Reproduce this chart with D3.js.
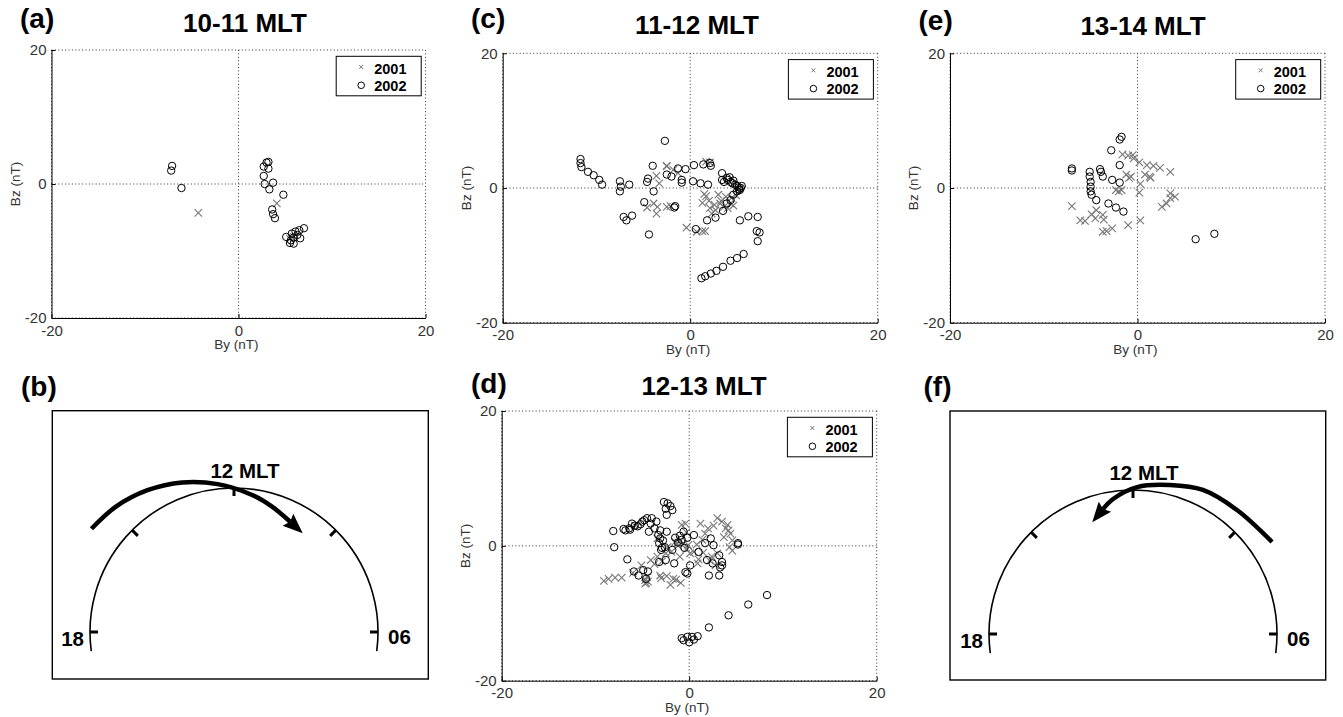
<!DOCTYPE html>
<html>
<head>
<meta charset="utf-8">
<script src="https://cdn.jsdelivr.net/npm/d3@7"></script>
<style>
body{margin:0;background:#fff;}
svg{display:block;font-family:"Liberation Sans",Arial,Helvetica,sans-serif;}
</style>
</head>
<body>
<svg width="1343" height="717"></svg>
<script>
// By, Bz pairs (nT)
const years = ["2001", "2002"];
const axisTicks = [-20, 0, 20];

const a2001 = [[-4.3,-4.3],[4.1,-2.9],[5.9,-7.9],[5.5,-8.2]];
const a2002 = [[-7.1,2.7],[-7.2,2.0],[-6.1,-0.6],[2.7,2.6],[3.0,3.2],[3.2,3.3],[3.2,2.3],[2.7,1.2],[2.8,0.0],
  [3.7,0.2],[3.3,-0.8],[4.8,-1.6],[3.6,-3.8],[3.7,-4.5],[3.9,-5.1],[5.1,-7.9],[5.6,-8.4],[5.7,-7.4],[6.1,-7.1],
  [6.5,-6.9],[7.0,-6.6],[6.6,-8.1],[5.9,-8.9],[5.5,-8.8],[5.9,-8.0],[6.3,-7.6]];

const c2001 = [[-2.5,3.2],[-3.6,1.8],[-3.3,0.7],[-3.9,-2.3],[-4.6,-2.9],[-3.6,-3.8],[-3.5,-2.8],[-2.5,-2.8],
  [-2.1,-2.7],[-0.4,-5.9],[0.7,-6.5],[1.3,-6.4],[1.6,-6.4],[1.7,-1.2],[2.0,-1.9],[2.1,-3.0],[2.6,-2.5],[3.0,-1.0],
  [3.2,-2.3],[3.6,-2.8],[3.8,-1.3],[4.3,-2.3],[1.7,3.9],[2.1,3.8],[-1.8,2.7],[-1.3,2.2],[-2.5,3.3],[1.3,-2.2],
  [2.3,-3.8],[3.3,-1.9],[4.6,-2.6],[1.5,-0.9],[4.4,-1.5],[4.9,-1.1],[2.7,-3.3],[4.0,-3.0]];
const c2002 = [[-2.7,7.0],[-11.7,4.3],[-11.7,3.7],[-11.6,3.1],[-10.9,2.4],[-10.3,1.9],[-9.7,1.2],[-9.4,0.5],
  [-7.5,1.0],[-7.4,0.2],[-6.5,0.5],[-7.5,-0.5],[-7.1,-4.3],[-6.8,-4.8],[-6.2,-4.1],[-4.9,-2.1],[-4.4,-6.9],
  [-4.5,1.4],[-4.6,0.9],[-4.0,3.3],[-3.9,-0.5],[-2.5,2.0],[-2.0,1.7],[-1.3,2.9],[-0.5,2.8],[-0.9,1.2],[-0.9,0.8],
  [-1.6,-2.7],[-1.7,-2.9],[0.4,3.4],[1.4,3.5],[2.1,3.7],[2.2,3.3],[0.3,1.0],[1.1,0.7],[1.9,0.5],[3.4,2.2],
  [3.4,1.2],[3.9,1.5],[4.3,0.9],[4.8,0.5],[5.2,0.1],[5.3,-0.3],[5.0,-0.5],[4.6,-1.0],[4.3,-1.8],[3.9,-2.3],
  [3.5,-3.4],[2.7,-4.4],[1.8,-4.8],[0.6,-6.1],[5.3,-4.8],[6.2,-4.2],[7.2,-4.3],[7.1,-6.4],[7.4,-6.6],[7.2,-7.9],
  [1.2,-13.4],[1.6,-13.1],[2.2,-12.7],[2.8,-12.3],[3.5,-11.7],[4.3,-10.8],[5.0,-10.4],[5.7,-9.8],
  [4.0,1.2],[4.5,0.7],[5.0,0.3],[5.4,0.0],[3.6,0.9],[4.2,1.6],[4.6,1.1],[5.5,0.3],[5.2,-0.2]];

const d2001 = [[-9.1,-5.2],[-8.6,-4.9],[-7.9,-4.7],[-7.2,-4.7],[-4.7,-5.1],[-4.5,-4.6],[-3.1,-4.4],[-2.4,-4.5],
  [-2.0,-5.8],[-1.4,-5.0],[-0.9,-5.5],[-4.1,-2.1],[-3.4,-1.6],[-2.5,-1.1],[-1.3,0.4],[-0.8,3.1],[-0.4,3.3],
  [1.2,3.3],[1.7,1.8],[3.0,4.1],[3.5,3.6],[4.1,3.1],[4.4,1.8],[4.6,0.8],[4.6,-0.7],[3.7,1.3],[3.0,-1.1],
  [0.1,-1.1],[0.5,-0.9],[0.9,-2.6],[2.8,-2.9],[-1.5,0.6],[-0.9,0.8],[-2.3,-0.2],[-3.4,1.1],[-5.1,-2.9],
  [-6.0,-4.0],[-1.0,-1.6],[2.2,-2.2],[-0.1,0.1],[1.5,-1.0],[-4.6,-5.5],[-5.8,3.0],
  [-4.7,-5.6],[-4.4,-5.3],[-1.2,0.0],[-0.6,0.3],[-0.3,-0.5],[-1.9,-0.9],[-2.9,-2.3],[-3.7,-2.7],[-3.0,-4.8],
  [-1.7,-4.9],[0.8,0.2],[1.4,0.9],[2.0,2.6],[2.6,3.0],[3.9,2.6],[4.2,2.3],[4.3,-0.2],[2.4,-1.6],[1.0,-2.0],[-0.3,2.0]];
const d2002 = [[-2.7,6.5],[-2.3,6.3],[-2.0,5.9],[-1.8,5.3],[-2.5,5.5],[-2.4,4.6],[-8.1,2.2],[-8.0,-0.2],
  [-6.6,-2.0],[-5.9,-3.8],[-5.4,-4.4],[-4.9,-3.6],[-6.8,2.3],[-6.3,2.4],[-6.1,3.3],[-5.5,2.9],[-5.0,3.6],
  [-4.5,4.1],[-4.0,4.1],[-4.1,3.3],[-4.3,2.1],[-3.7,2.6],[-3.1,2.3],[-2.4,2.1],[-3.1,1.1],[-3.2,0.4],
  [-3.2,-2.4],[-2.5,-2.1],[-1.6,-2.6],[-0.4,-3.9],[-0.2,-4.1],[-0.6,2.1],[0.5,1.6],[1.0,-0.9],[1.7,0.4],
  [2.3,1.1],[2.6,0.1],[3.2,-1.4],[3.5,-2.4],[3.5,-2.9],[3.2,-4.4],[2.1,-4.4],[5.2,0.4],[5.2,0.2],[8.3,-7.3],
  [6.3,-8.7],[4.2,-10.3],[2.1,-12.1],[-0.6,-14.0],[-0.2,-13.5],[0.3,-13.5],[0.9,-13.4],[0.0,-14.3],[-0.8,-13.7],
  [0.5,-13.9],[-1.2,0.5],[-1.8,-0.6],[-0.8,0.9],[-2.9,-0.3],
  [-5.8,3.0],[-5.2,3.2],[-4.8,3.8],[-3.5,3.6],[-3.3,1.6],[-2.8,0.8],[-2.6,-0.2],[-3.0,-0.6],[-1.5,1.2],
  [-1.0,1.5],[-0.2,1.2],[-0.5,-0.3],[0.1,-2.9],[1.9,-2.1],[2.5,-2.6],[3.3,-3.2],[-6.4,2.6],[-7.0,2.5],
  [-4.6,-4.9],[-4.4,-3.8]];

const e2001 = [[-1.6,5.0],[-1.0,4.8],[-0.4,4.4],[0.2,3.8],[1.0,3.4],[1.7,3.3],[2.4,3.0],[3.5,2.4],[0.8,2.0],
  [1.3,1.7],[-0.7,1.7],[-0.9,1.5],[0.3,0.6],[0.2,-0.7],[-2.0,-0.5],[-2.3,-0.3],[-1.7,-0.3],[-7.0,-2.7],
  [-6.1,-4.8],[-5.6,-4.9],[-4.5,-4.5],[-4.4,-3.3],[-3.7,-4.0],[-3.6,-4.7],[-3.7,-6.5],[-3.3,-6.4],[-2.7,-6.0],
  [-1.0,-5.5],[0.3,-4.8],[2.6,-2.8],[3.1,-2.3],[3.5,-1.5],[4.0,-1.3],[3.5,-0.8],[-4.9,-3.9],[-1.2,2.0],
  [1.4,1.5],[-0.5,4.9]];
const e2002 = [[-1.7,7.6],[-1.9,7.2],[-2.8,5.6],[-1.9,3.4],[-7.0,2.9],[-7.0,2.6],[-5.1,2.4],[-5.1,1.7],
  [-5.0,0.9],[-5.0,0.2],[-5.0,-0.5],[-4.9,-1.0],[-4.4,-1.8],[-4.0,2.8],[-3.9,2.4],[-3.7,1.7],[-2.7,1.2],
  [-1.9,0.8],[-3.1,-2.3],[-2.3,-2.9],[-1.5,-3.5],[6.2,-7.6],[8.2,-6.8]];

// schematic MLT dials: clock ticks and the arrow path as [deg from noon, radius]
const dialTicks = [-90, -45, 0, 45, 90];
const arrowB = [[-54.1,176],[-43.3,172.2],[-31.4,166.1],[-19.1,158.3],[-6.3,148.8],[7.3,138.4],[16.9,131],[27,123.7]];
const arrowF = [[56.5,166.7],[40,161.8],[25.9,160.1],[13.9,153.5],[1.6,147],[-8.4,136.5],[-13.5,128.5]];

const scatterPanels = [
  {tag:"(a)", title:"10-11 MLT", s01:a2001, s02:a2002, left:51.5, right:425.5, top:50, bottom:318, tx:245, ty:32, lx:20, ly:27.5},
  {tag:"(c)", title:"11-12 MLT", s01:c2001, s02:c2002, left:502.7, right:877.7, top:53.3, bottom:322.7, tx:697, ty:33.5, lx:471, ly:27.5},
  {tag:"(e)", title:"13-14 MLT", s01:e2001, s02:e2002, left:950, right:1325, top:53.3, bottom:322.7, tx:1143, ty:35, lx:918.5, ly:29.5},
  {tag:"(d)", title:"12-13 MLT", s01:d2001, s02:d2002, left:501.7, right:876.7, top:411, bottom:680.7, tx:704, ty:395, lx:471, ly:393}
];
const dialPanels = [
  {tag:"(b)", arrow:arrowB, left:52.3, right:428.3, top:410.7, bottom:679, cx:234, cy:632, lx:21, ly:396},
  {tag:"(f)", arrow:arrowF, left:950, right:1325.7, top:411, bottom:680, cx:1133, cy:634, lx:923.5, ly:396}
];

const svg = d3.select("svg");
const rad = d => d * Math.PI / 180;

svg.append("defs").append("marker")
  .attr("id", "head")
  .attr("markerUnits", "userSpaceOnUse")
  .attr("viewBox", "-4 -9 22 18")
  .attr("markerWidth", 22).attr("markerHeight", 18)
  .attr("refX", 0).attr("refY", 0)
  .attr("orient", "auto")
  .append("path").attr("d", "M-3,-8L17,0L-3,8L0,0Z").attr("fill", "#000");

function panelLabel(p){
  svg.append("text").attr("x", p.lx).attr("y", p.ly)
    .attr("font-size", 28).attr("font-weight", "bold").text(p.tag);
}

scatterPanels.forEach(p => {
  const g = svg.append("g");
  const x = d3.scaleLinear().domain([-20, 20]).range([p.left, p.right]);
  const y = d3.scaleLinear().domain([-20, 20]).range([p.bottom, p.top]);

  // dotted grid
  g.selectAll(".gx").data(axisTicks).enter().append("line")
    .attr("x1", d => x(d)).attr("x2", d => x(d)).attr("y1", p.top).attr("y2", p.bottom)
    .attr("stroke", "#333").attr("stroke-width", 1).attr("stroke-dasharray", "1,2.4");
  g.selectAll(".gy").data(axisTicks).enter().append("line")
    .attr("y1", d => y(d)).attr("y2", d => y(d)).attr("x1", p.left).attr("x2", p.right)
    .attr("stroke", "#333").attr("stroke-width", 1).attr("stroke-dasharray", "1,2.4");

  const xAx = g.append("g").attr("transform", `translate(0,${p.bottom})`)
    .call(d3.axisBottom(x).tickValues(axisTicks).tickSize(-4).tickSizeOuter(0).tickPadding(7).tickFormat(d3.format("d")));
  const yAx = g.append("g").attr("transform", `translate(${p.left},0)`)
    .call(d3.axisLeft(y).tickValues(axisTicks).tickSize(-4).tickSizeOuter(0).tickPadding(5).tickFormat(d3.format("d")));
  [xAx, yAx].forEach(ax => {
    ax.attr("font-family", null).attr("font-size", 15);
    ax.selectAll("text").attr("fill", "#333");
    ax.select(".domain").attr("stroke", "#000");
  });
  xAx.selectAll("text").text(d => d < 0 ? "-" + Math.abs(d) : d);
  yAx.selectAll("text").text(d => d < 0 ? "-" + Math.abs(d) : d);

  g.append("text").attr("x", (p.left + p.right) / 2 - 2).attr("y", p.bottom + 31)
    .attr("text-anchor", "middle").attr("font-size", 13.5).attr("fill", "#333").text("By (nT)");
  g.append("text")
    .attr("transform", `translate(${p.left - 32},${(p.top + p.bottom) / 2}) rotate(-90)`)
    .attr("text-anchor", "middle").attr("font-size", 13.5).attr("fill", "#333").text("Bz (nT)");

  // 2001: grey crosses
  g.selectAll(".x01").data(p.s01).enter().append("path")
    .attr("transform", d => `translate(${x(d[0])},${y(d[1])})`)
    .attr("d", d3.symbol(d3.symbolX, 38))
    .attr("fill", "none").attr("stroke", "#777").attr("stroke-width", 1.1);
  // 2002: open circles
  g.selectAll(".o02").data(p.s02).enter().append("circle")
    .attr("cx", d => x(d[0])).attr("cy", d => y(d[1])).attr("r", 3.7)
    .attr("fill", "none").attr("stroke", "#000").attr("stroke-width", 1);

  // legend
  const lg = g.append("g").attr("transform", `translate(${p.right - 89.3},${p.top + 6.3})`);
  lg.append("rect").attr("width", 85).attr("height", 39.5)
    .attr("fill", "#fff").attr("stroke", "#000").attr("stroke-width", 1);
  lg.append("path").attr("transform", "translate(25,10.7)")
    .attr("d", d3.symbol(d3.symbolX, 12)).attr("fill", "none").attr("stroke", "#777").attr("stroke-width", 1);
  lg.append("circle").attr("cx", 25).attr("cy", 29).attr("r", 3.3)
    .attr("fill", "none").attr("stroke", "#000").attr("stroke-width", 1);
  lg.selectAll(".lt").data(years).enter().append("text")
    .attr("x", 38).attr("y", (d, i) => 17.3 + i * 17.4)
    .attr("font-size", 14.5).attr("font-weight", "bold").text(d => d);

  svg.append("text").attr("x", p.tx).attr("y", p.ty).attr("text-anchor", "middle")
    .attr("font-size", 26).attr("font-weight", "bold").text(p.title);
  panelLabel(p);
});

dialPanels.forEach(p => {
  const g = svg.append("g");
  const r = 144;
  g.append("rect").attr("x", p.left).attr("y", p.top)
    .attr("width", p.right - p.left).attr("height", p.bottom - p.top)
    .attr("fill", "none").attr("stroke", "#000").attr("stroke-width", 1.4);

  const arc = d3.path();
  arc.arc(p.cx, p.cy, r, rad(172.4), rad(367.6), false);
  g.append("path").attr("d", arc.toString()).attr("fill", "none").attr("stroke", "#000").attr("stroke-width", 1.6);

  g.selectAll(".tk").data(dialTicks).enter().append("line")
    .attr("x1", d => p.cx + r * Math.sin(rad(d))).attr("y1", d => p.cy - r * Math.cos(rad(d)))
    .attr("x2", d => p.cx + (r - 8) * Math.sin(rad(d))).attr("y2", d => p.cy - (r - 8) * Math.cos(rad(d)))
    .attr("stroke", "#000").attr("stroke-width", 3);

  const line = d3.lineRadial().angle(d => rad(d[0])).radius(d => d[1]).curve(d3.curveCatmullRom);
  g.append("path").attr("transform", `translate(${p.cx},${p.cy})`)
    .attr("d", line(p.arrow)).attr("fill", "none").attr("stroke", "#000")
    .attr("stroke-width", 4.5).attr("marker-end", "url(#head)");

  g.append("text").attr("x", p.cx + 11).attr("y", p.cy - r - 10).attr("text-anchor", "middle")
    .attr("font-size", 20.5).attr("font-weight", "bold").text("12 MLT");
  g.append("text").attr("x", p.cx - r - 6).attr("y", p.cy + 14).attr("text-anchor", "end")
    .attr("font-size", 20.5).attr("font-weight", "bold").text("18");
  g.append("text").attr("x", p.cx + r + 10).attr("y", p.cy + 12).attr("text-anchor", "start")
    .attr("font-size", 20.5).attr("font-weight", "bold").text("06");
  panelLabel(p);
});
</script>
</body>
</html>
